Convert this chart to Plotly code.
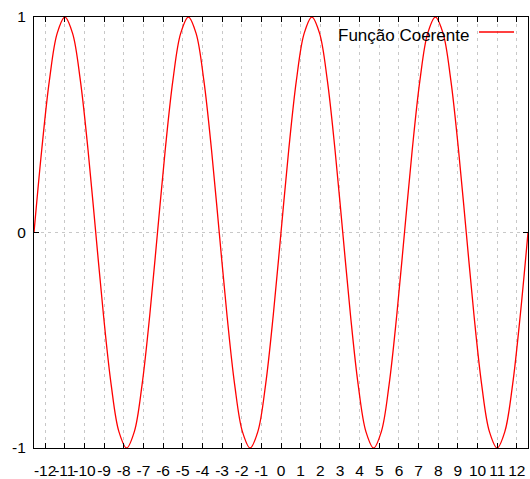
import plotly.graph_objects as go

x_vals = [-12.566, -12.174, -11.781, -11.388, -10.996, -10.603, -10.210, -9.817,
          -9.425, -9.032, -8.639, -8.247, -7.854, -7.461, -7.069, -6.676,
          -6.283, -5.890, -5.498, -5.105, -4.712, -4.320, -3.927, -3.534,
          -3.142, -2.749, -2.356, -1.963, -1.571, -1.178, -0.785, -0.393,
          0.0, 0.393, 0.785, 1.178, 1.571, 1.963, 2.356, 2.749,
          3.142, 3.534, 3.927, 4.320, 4.712, 5.105, 5.498, 5.890,
          6.283, 6.676, 7.069, 7.461, 7.854, 8.247, 8.639, 9.032,
          9.425, 9.817, 10.210, 10.603, 10.996, 11.388, 11.781, 12.174, 12.566]
y_vals = [0.0, 0.383, 0.707, 0.924, 1.0, 0.924, 0.707, 0.383,
          0.0, -0.383, -0.707, -0.924, -1.0, -0.924, -0.707, -0.383,
          0.0, 0.383, 0.707, 0.924, 1.0, 0.924, 0.707, 0.383,
          0.0, -0.383, -0.707, -0.924, -1.0, -0.924, -0.707, -0.383,
          0.0, 0.383, 0.707, 0.924, 1.0, 0.924, 0.707, 0.383,
          0.0, -0.383, -0.707, -0.924, -1.0, -0.924, -0.707, -0.383,
          0.0, 0.383, 0.707, 0.924, 1.0, 0.924, 0.707, 0.383,
          0.0, -0.383, -0.707, -0.924, -1.0, -0.924, -0.707, -0.383, 0.0]

x_ticks = list(range(-12, 13))
y_ticks = [-1, 0, 1]
series_name = "Função Coerente"

FONT = "Liberation Sans, Arial, sans-serif"

fig = go.Figure()
fig.add_trace(go.Scatter(
    x=x_vals, y=y_vals, mode="lines", name=series_name,
    line=dict(color="#ff0000", width=1.3, shape="spline", smoothing=1.0),
    showlegend=False,
))

axis_common = dict(
    showline=True, linecolor="black", linewidth=1, mirror="allticks",
    ticks="inside", ticklen=5, tickcolor="black", tickwidth=1,
    showgrid=True, gridcolor="#c8c8c8", griddash="3px,4px", gridwidth=1,
    zeroline=False, automargin=False,
    tickfont=dict(family=FONT, size=15.5, color="black"),
)

fig.update_xaxes(range=[min(x_vals), max(x_vals)], tickmode="array",
                 tickvals=x_ticks, ticktext=[str(t) for t in x_ticks],
                 tickangle=0, ticklabelstandoff=8, **axis_common)
fig.update_yaxes(range=[-1, 1], tickmode="array", tickvals=y_ticks,
                 ticktext=[str(t) for t in y_ticks], ticklabelstandoff=4,
                 **axis_common)

# gnuplot-style key: text left of the line sample
fig.add_annotation(xref="paper", yref="paper", x=(471 - 34) / 494, y=1 - (35 - 17) / 431,
                   text=series_name, showarrow=False, xanchor="right", yanchor="middle",
                   font=dict(family=FONT, size=17, color="black"))
fig.add_shape(type="line", xref="paper", yref="paper",
              x0=(479 - 34) / 494, x1=(514 - 34) / 494,
              y0=1 - (32 - 17) / 431, y1=1 - (32 - 17) / 431,
              line=dict(color="#ff0000", width=1.3))

fig.update_layout(
    width=530, height=479,
    margin=dict(l=34, r=2, t=17, b=31),
    plot_bgcolor="white", paper_bgcolor="white",
)

# remove the default page margin so the figure fills the window exactly
fig.write_html(
    "out.html",
    config={"displayModeBar": False},
    post_script="document.body.style.margin='0';document.body.style.overflow='hidden';",
)
